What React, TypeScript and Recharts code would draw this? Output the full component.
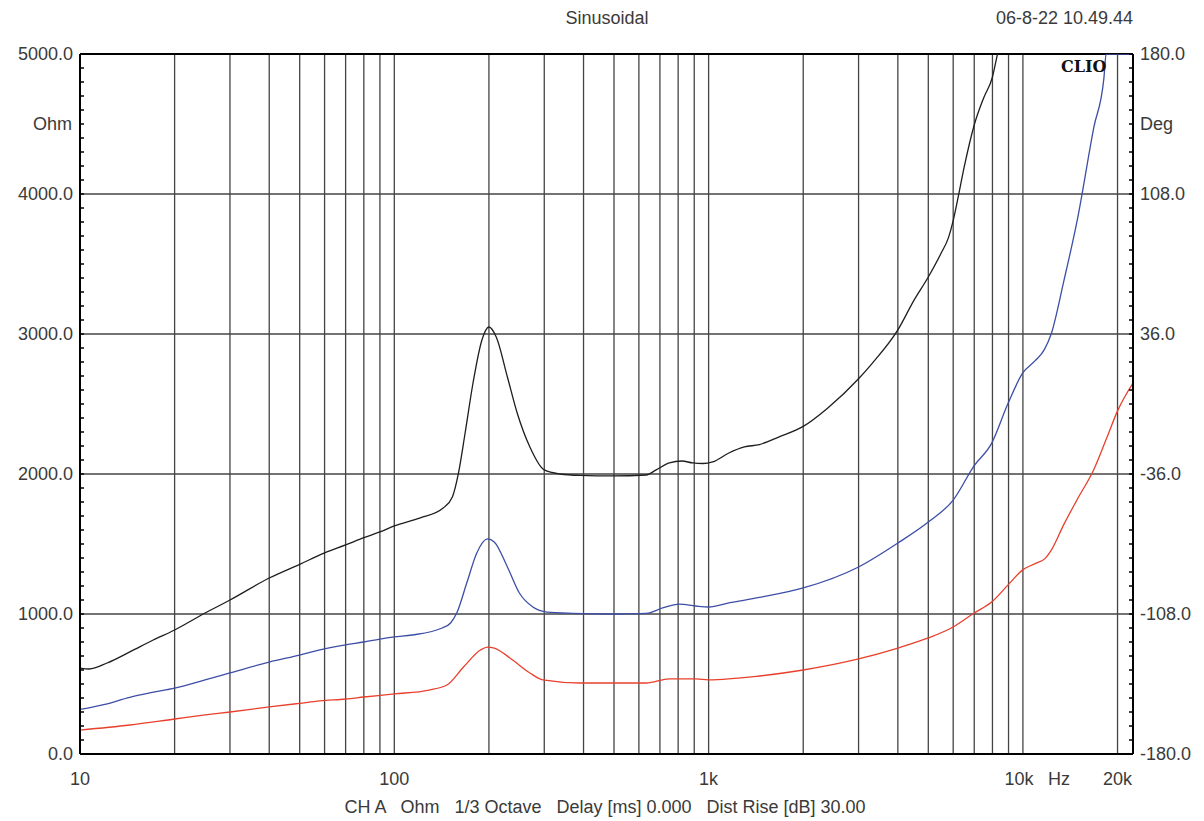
import { LineChart, Line, XAxis, YAxis, CartesianGrid, ReferenceLine } from 'recharts';

// frequency axis (Hz)
const xTicks = [10, 20, 30, 40, 50, 60, 70, 80, 90, 100, 200, 300, 400, 500, 600, 700, 800, 900,
    1000, 2000, 3000, 4000, 5000, 6000, 7000, 8000, 9000, 10000, 20000];
const xLabelValues = [10, 100, 1000, 10000, 20000];
const xLabelTexts = ['10', '100', '1k', '10k', '20k'];

const ohmTicks = [0, 1000, 2000, 3000, 4000, 5000];
const degTicks = [-180, -108, -36, 36, 108, 180];
const ohmMinor = Array.from({ length: 51 }, (_, i) => i * 100);
const degMinor = Array.from({ length: 51 }, (_, i) => -180 + i * 7.2);

// black trace
const blackFreq = [10, 10.7, 12.2, 14.4, 17.1, 20, 25, 30, 40, 50, 60, 70, 80, 90, 100, 121, 143, 153, 160, 168,
    178, 190, 200, 211, 229, 246, 270, 300, 337, 390, 494, 633, 681, 750, 822, 890, 960, 1030, 1160, 1300,
    1450, 1670, 2000, 2390, 3000, 3300, 4000, 4500, 5000, 5500, 5800, 6000, 6200, 6500, 7000, 7500, 8000, 8300, 8700];
const blackOhm = [614, 607, 650, 729, 814, 886, 1007, 1100, 1257, 1355, 1436, 1493, 1545, 1586, 1629, 1686, 1757, 1836, 2007, 2293,
    2650, 2957, 3050, 2979, 2693, 2436, 2193, 2029, 2000, 1990, 1986, 1993, 2029, 2079, 2093, 2079, 2075, 2086, 2150, 2193,
    2210, 2264, 2340, 2470, 2680, 2785, 3029, 3240, 3407, 3580, 3690, 3810, 3960, 4190, 4493, 4686, 4836, 5000, 5200];

// blue trace
const blueFreq = [10, 12, 14.4, 17, 20, 25, 30, 40, 50, 58, 70, 80, 90, 100, 114, 142, 151, 158, 170, 183,
    198, 208, 229, 250, 276, 306, 370, 500, 633, 714, 805, 910, 1000, 1160, 1450, 2000, 3000, 4000, 5000, 6000,
    7000, 7950, 8970, 10000, 10900, 11700, 12300, 13500, 14900, 16800, 18100, 18400, 20000, 22400];
const blueOhm = [318, 355, 405, 440, 471, 529, 579, 657, 707, 743, 779, 800, 821, 836, 850, 900, 936, 1007, 1221, 1436,
    1536, 1514, 1336, 1150, 1050, 1014, 1005, 1000, 1005, 1043, 1071, 1057, 1050, 1079, 1118, 1186, 1336, 1507, 1657, 1814,
    2060, 2219, 2505, 2724, 2806, 2888, 3000, 3380, 3817, 4473, 4828, 5000, 5000, 5000];

// red trace
const redFreq = [10, 14.4, 20, 25, 30, 40, 50, 58, 70, 80, 100, 129, 147, 166, 188, 198, 208, 238, 270, 297,
    390, 633, 750, 910, 1000, 1450, 2000, 3000, 4000, 5000, 6000, 7000, 7950, 8970, 10000, 10900, 11800, 12300, 13500, 14900,
    16800, 18500, 20000, 22400];
const redOhm = [171, 207, 250, 279, 300, 336, 362, 379, 393, 407, 429, 457, 493, 621, 743, 764, 757, 671, 579, 529,
    507, 507, 536, 536, 530, 557, 600, 679, 757, 829, 907, 1007, 1085, 1208, 1317, 1358, 1399, 1454, 1640, 1820,
    2030, 2260, 2451, 2650];

const toPoints = (freq: number[], vals: number[]) => freq.map((f, i) => ({ f, v: vals[i] }));

const FONT = '"Liberation Sans", Arial, sans-serif';
const TEXT = '#3a3a3a';

const isMajor = (list: number[], v: number) => list.some(t => Math.abs(t - v) < 1e-6);

const XTick = (props: any) => {
    const { x, y, payload } = props;
    const idx = xLabelValues.indexOf(payload.value);
    if (idx < 0) return null;
    return (
        <g>
            <text x={payload.value === 10000 ? x - 4 : x} y={y} dy="0.71em" textAnchor="middle"
                fill={TEXT} fontSize={18} fontFamily={FONT}>{xLabelTexts[idx]}</text>
            {payload.value === 10000 && (
                <text x={x + 36} y={y} dy="0.71em" textAnchor="middle" fill={TEXT} fontSize={18} fontFamily={FONT}>Hz</text>
            )}
        </g>
    );
};

const abs = (extra: any) => ({ position: 'absolute' as const, fontFamily: FONT, fontSize: 18, color: TEXT, lineHeight: '20px', whiteSpace: 'pre' as const, ...extra });

export default function App() {
    return (
        <div style={{ position: 'absolute', left: 0, top: 0, width: 1204, height: 821, background: '#fff' }}>
            <LineChart width={1204} height={821} margin={{ top: 54, right: 6, bottom: 37, left: 10 }}>
                <CartesianGrid stroke="#444" strokeWidth={1.3} horizontalValues={ohmTicks} />
                <XAxis dataKey="f" type="number" scale="log" domain={[10, 22400]} allowDataOverflow
                    ticks={xTicks} interval={0} tick={<XTick />} tickLine={false} tickSize={8} tickMargin={10}
                    height={30} axisLine={{ stroke: '#000', strokeWidth: 2 }} />
                {/* minor ticks point inward (negative tick size), labels only on the major values */}
                <YAxis domain={[0, 5000]} allowDataOverflow ticks={ohmMinor} interval={0} width={70}
                    tickFormatter={(v: number) => (isMajor(ohmTicks, v) ? v.toFixed(1) : '')}
                    tickLine={{ stroke: '#000', strokeWidth: 1.5 }} tickSize={-4} tickMargin={11}
                    tick={{ fill: TEXT, fontSize: 18, fontFamily: FONT }} axisLine={{ stroke: '#000', strokeWidth: 2 }} />
                <YAxis yAxisId="deg" orientation="right" type="number" domain={[-180, 180]} allowDataOverflow
                    ticks={degMinor} interval={0} width={65}
                    tickFormatter={(v: number) => (isMajor(degTicks, v) ? v.toFixed(1) : '')}
                    tickLine={{ stroke: '#000', strokeWidth: 1.5 }} tickSize={-4} tickMargin={11}
                    tick={{ fill: TEXT, fontSize: 18, fontFamily: FONT }} axisLine={{ stroke: '#000', strokeWidth: 2 }} />
                <ReferenceLine y={5000} stroke="#000" strokeWidth={2} />
                <Line data={toPoints(redFreq, redOhm)} dataKey="v" type="monotone" stroke="#e8402c" strokeWidth={1.3}
                    dot={false} activeDot={false} isAnimationActive={false} />
                <Line data={toPoints(blueFreq, blueOhm)} dataKey="v" type="monotone" stroke="#3d4ea6" strokeWidth={1.3}
                    dot={false} activeDot={false} isAnimationActive={false} />
                <Line data={toPoints(blackFreq, blackOhm)} dataKey="v" type="monotone" stroke="#1e1e1e" strokeWidth={1.3}
                    dot={false} activeDot={false} isAnimationActive={false} />
            </LineChart>
            <div style={abs({ left: 0, width: 1214, top: 8, textAlign: 'center' })}>Sinusoidal</div>
            <div style={abs({ right: 71, top: 8 })}>06-8-22 10.49.44</div>
            <div style={abs({ right: 1132, top: 114 })}>Ohm</div>
            <div style={abs({ left: 1140, top: 114 })}>Deg</div>
            <div style={abs({ left: 1061, top: 57, fontFamily: '"DejaVu Serif", serif', fontWeight: 'bold', fontSize: 16, color: '#111' })}>CLIO</div>
            <div style={abs({ left: 0, width: 1210, top: 797, textAlign: 'center' })}>{'CH A   Ohm   1/3 Octave   Delay [ms] 0.000   Dist Rise [dB] 30.00'}</div>
        </div>
    );
}
